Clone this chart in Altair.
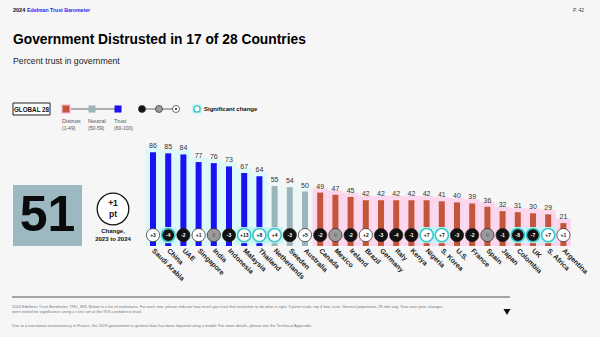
import altair as alt
import pandas as pd

countries = ["Saudi Arabia", "China", "UAE", "Singapore", "India", "Indonesia", "Malaysia",
             "Thailand", "Netherlands", "Sweden", "Australia", "Canada", "Mexico", "Ireland",
             "Brazil", "Germany", "Italy", "Kenya", "Nigeria", "S. Korea", "U.S.", "France",
             "Spain", "Japan", "Colombia", "UK", "S. Africa", "Argentina"]
trust = [86, 85, 84, 77, 76, 73, 67, 64, 55, 54, 50, 49, 47, 45, 42, 42, 42, 42, 42,
         41, 40, 39, 36, 32, 31, 30, 29, 21]
change = [3, -4, -2, 1, 0, -3, 13, 8, 4, -3, 5, -2, 0, -2, 2, -3, -4, -1, 7, 7,
          -3, -2, 0, -1, -8, -7, 7, 1]
significant = [False, True, False, False, False, False, True, True, True, False, False, False,
               False, False, False, False, False, False, True, True, False, False, False,
               False, True, True, True, False]

FONT = "Liberation Sans"

df = pd.DataFrame({
    "country": countries,
    "trust": trust,
    "change": change,
    "sig": significant,
})
df["label"] = df["change"].map(lambda c: f"+{c}" if c > 0 else str(c))

x_enc = alt.X("country:N", sort=countries, axis=None,
              scale=alt.Scale(range=[145.4, 571], paddingInner=0, paddingOuter=0))
y_scale = alt.Scale(domain=[0, 100], range=[246, 137])
CIRCLE_Y = 10
NAME_Y = -3.5

base = alt.Chart(df).transform_calculate(
    top="datum.trust + 4",
    bgcol="datum.trust >= 60 ? '#dcf8f8' : (datum.trust >= 50 ? '#eef6f6' : '#fcd6ec')",
    barcol="datum.trust >= 60 ? '#1a12f2' : (datum.trust >= 50 ? '#9cb4bc' : '#c4553a')",
    circfill="datum.change < 0 ? '#111111' : (datum.change == 0 ? '#9a9a9a' : '#ffffff')",
    txtcol="datum.change < 0 ? '#ffffff' : (datum.change == 0 ? '#666666' : '#111111')",
)

bg = base.mark_bar().encode(
    x=x_enc,
    y=alt.Y("top:Q", scale=y_scale, axis=None),
    y2=alt.datum(0),
    color=alt.Color("bgcol:N", scale=None),
)

bars = base.mark_bar(width=6).encode(
    x=x_enc,
    y=alt.Y("trust:Q", scale=y_scale, axis=None),
    y2=alt.datum(0),
    color=alt.Color("barcol:N", scale=None),
)

values = base.mark_text(dy=-6, fontSize=7, color="#333333", font=FONT).encode(
    x=x_enc,
    y=alt.Y("trust:Q", scale=y_scale, axis=None),
    text="trust:Q",
)

glow = base.transform_filter("datum.sig").mark_square(size=260, color="#c6f3f3", opacity=1).encode(
    x=x_enc, y=alt.datum(CIRCLE_Y),
)

circles = base.mark_point(shape="circle", filled=True, size=175).encode(
    x=x_enc,
    y=alt.datum(CIRCLE_Y),
    fill=alt.Fill("circfill:N", scale=None),
    stroke=alt.condition("datum.sig", alt.value("#3cc6c6"), alt.value("#222222")),
    strokeWidth=alt.condition("datum.sig", alt.value(1.6), alt.value(0.7)),
    opacity=alt.value(1),
)

circle_text = base.mark_text(fontSize=5, fontWeight="bold", font=FONT).encode(
    x=x_enc,
    y=alt.datum(CIRCLE_Y),
    text="label:N",
    color=alt.Color("txtcol:N", scale=None),
)

names = base.mark_text(angle=45, align="left", baseline="middle", fontSize=7,
                       fontWeight="bold", color="#222222", font=FONT).encode(
    x=x_enc,
    y=alt.datum(NAME_Y),
    text="country:N",
)


def label(text, x, y, size, weight="normal", color="#111111", align="left", baseline="alphabetic"):
    return alt.Chart(pd.DataFrame({"t": [text]})).mark_text(
        fontSize=size, fontWeight=weight, color=color, align=align, baseline=baseline, font=FONT
    ).encode(x=alt.value(x), y=alt.value(y), text="t:N")


one = pd.DataFrame({"a": [0]})

layers = []
# header
layers.append(label("2024", 13, 12, 5.5, "bold"))
layers.append(label("Edelman Trust Barometer", 27, 12, 5.2, "bold", "#1f1fe6"))
layers.append(label("P. 42", 584, 12, 5, "normal", "#444444", "right"))
layers.append(label("Government Distrusted in 17 of 28 Countries", 13, 44, 13.8, "bold", "#000000"))
layers.append(label("Percent trust in government", 13, 64, 8.7, "normal", "#222222"))

# legend
layers.append(alt.Chart(one).mark_rect(fill="#ffffff", stroke="#222222", strokeWidth=1).encode(
    x=alt.value(13), x2=alt.value(50), y=alt.value(103), y2=alt.value(115)))
layers.append(label("GLOBAL 28", 31.5, 111.5, 6.3, "bold", "#111111", "center"))
layers.append(alt.Chart(one).mark_rule(color="#666666", strokeWidth=1).encode(
    x=alt.value(66), x2=alt.value(118), y=alt.value(109)))
layers.append(alt.Chart(one).mark_square(size=100, color="#fcd0e6", opacity=1).encode(
    x=alt.value(66), y=alt.value(109)))
for xx, col in [(66, "#c4553a"), (92, "#9cb4bc"), (118, "#1a12f2")]:
    layers.append(alt.Chart(one).mark_square(size=50, color=col, opacity=1).encode(
        x=alt.value(xx), y=alt.value(109)))
for xx, t1, t2 in [(62, "Distrust", "(1-49)"), (88, "Neutral", "(50-59)"), (114, "Trust", "(60-100)")]:
    layers.append(label(t1, xx, 123, 5.5, "normal", "#555555"))
    layers.append(label(t2, xx, 130, 5, "normal", "#555555"))
layers.append(alt.Chart(one).mark_rule(color="#666666", strokeWidth=1).encode(
    x=alt.value(142), x2=alt.value(176), y=alt.value(109)))
for xx, col in [(142, "#111111"), (159, "#9a9a9a"), (176, "#ffffff")]:
    layers.append(alt.Chart(one).mark_point(shape="circle", filled=True, size=50, fill=col,
                                            stroke="#333333", strokeWidth=0.7, opacity=1).encode(
        x=alt.value(xx), y=alt.value(109)))
layers.append(alt.Chart(one).mark_point(shape="circle", filled=True, size=4, color="#111111", opacity=1).encode(
    x=alt.value(176), y=alt.value(109)))
layers.append(alt.Chart(one).mark_square(size=90, color="#c6f3f3", opacity=1).encode(
    x=alt.value(197), y=alt.value(109)))
layers.append(alt.Chart(one).mark_point(shape="circle", filled=True, size=40, fill="#ffffff",
                                        stroke="#3cc6c6", strokeWidth=1.4, opacity=1).encode(
    x=alt.value(197), y=alt.value(109)))
layers.append(label("Significant change", 204, 111, 6, "bold", "#111111"))

# global figure
layers.append(alt.Chart(one).mark_rect(fill="#9cb8c0").encode(
    x=alt.value(13), x2=alt.value(82), y=alt.value(185), y2=alt.value(246)))
layers.append(label("51", 47.5, 216, 50, "bold", "#0a0a0a", "center", "middle"))
layers.append(alt.Chart(one).mark_point(shape="circle", filled=True, size=1000, fill="#ffffff",
                                        stroke="#111111", strokeWidth=1.3, opacity=1).encode(
    x=alt.value(113), y=alt.value(209)))
layers.append(label("+1", 113, 206, 8.5, "bold", "#111111", "center"))
layers.append(label("pt", 113, 217, 8.5, "bold", "#111111", "center"))
layers.append(label("Change,", 113, 233, 6, "bold", "#111111", "center"))
layers.append(label("2023 to 2024", 113, 241, 6, "bold", "#111111", "center"))

# footer
layers.append(alt.Chart(one).mark_rule(color="#8a8a8a", strokeWidth=1.5).encode(
    x=alt.value(12), x2=alt.value(510), y=alt.value(297)))
layers.append(label("2024 Edelman Trust Barometer. TRU_INS. Below is a list of institutions. For each one, please indicate how much you trust that institution to do what is right. 9-point scale; top 4 box, trust. General population, 28-mkt avg. Year-over-year changes",
                    12, 308, 4, "normal", "#777777"))
layers.append(label("were tested for significance using a t-test set at the 95% confidence level.",
                    12, 313, 4, "normal", "#777777"))
layers.append(label("Due to a translation inconsistency in France, the 2023 government in general data has been imputed using a model. For more details, please see the Technical Appendix.",
                    12, 327, 4, "normal", "#777777"))
layers.append(alt.Chart(one).mark_point(shape="triangle-down", filled=True, size=50, color="#111111", opacity=1).encode(
    x=alt.value(507), y=alt.value(312)))

chart = alt.layer(bg, bars, values, glow, circles, circle_text, names, *layers).properties(
    width=600, height=337,
    autosize=alt.AutoSizeParams(type="none"),
    padding=0,
    background="#f6f6f6",
).configure_view(stroke=None)

chart.save("out.html", embed_options={"renderer": "svg", "actions": False})
